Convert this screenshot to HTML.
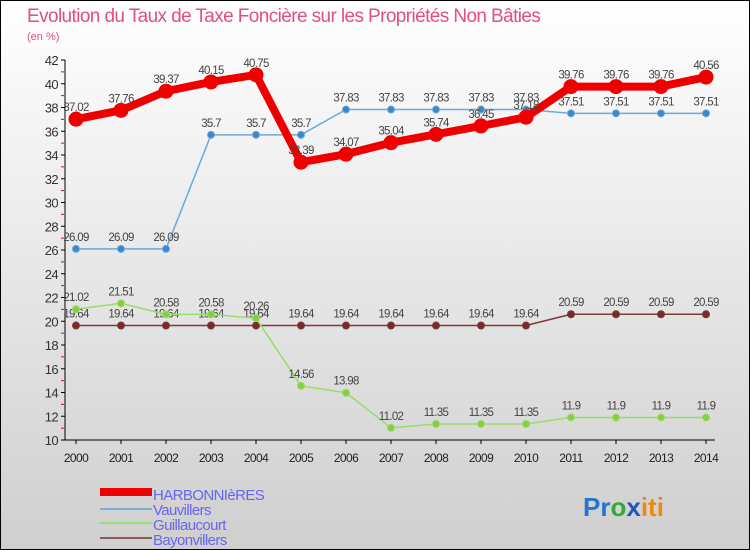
<!DOCTYPE html>
<html><head><meta charset="utf-8"><style>
body{margin:0;width:750px;height:550px;overflow:hidden;font-family:"Liberation Sans",sans-serif}
svg{display:block}
</style></head><body>
<svg id="c" width="750" height="550" xmlns="http://www.w3.org/2000/svg">
<defs><linearGradient id="bg" x1="0" y1="0" x2="0" y2="1"><stop offset="0" stop-color="#ffffff"/><stop offset="1" stop-color="#cfcfcf"/></linearGradient></defs>
<rect x="0.5" y="0.5" width="749" height="549" fill="url(#bg)" stroke="#000"/>
<text x="27" y="22" font-size="19" fill="#e0507a" letter-spacing="-0.6">Evolution du Taux de Taxe Foncière sur les Propriétés Non Bâties</text>
<text x="27" y="40" font-size="11" fill="#e0507a">(en %)</text>
<g id="axes"></g><g id="series"></g>
<g>
<rect x="100" y="488" width="52" height="8" fill="#e00"/>
<text x="153" y="500" font-size="15" fill="#6666ee" letter-spacing="-0.6">HARBONNIèRES</text>
<rect x="100" y="508" width="52" height="2" fill="#7aaed8"/>
<text x="153" y="515" font-size="15" fill="#6666ee" letter-spacing="-0.6">Vauvillers</text>
<rect x="100" y="522" width="52" height="2" fill="#99dd77"/>
<text x="153" y="530" font-size="15" fill="#6666ee" letter-spacing="-0.6">Guillaucourt</text>
<rect x="100" y="537" width="52" height="2" fill="#8a5a5a"/>
<text x="153" y="545" font-size="15" fill="#6666ee" letter-spacing="-0.6">Bayonvillers</text>
</g>
<text x="583" y="516" font-size="26" font-weight="bold"><tspan fill="#2277cc">Pr</tspan><tspan fill="#33aa33">o</tspan><tspan fill="#2255bb">x</tspan><tspan fill="#ee8811">iti</tspan></text>
</svg>
<script>
const years=[2000,2001,2002,2003,2004,2005,2006,2007,2008,2009,2010,2011,2012,2013,2014];
const harbonnieres=[37.02,37.76,39.37,40.15,40.75,33.39,34.07,35.04,35.74,36.45,37.18,39.76,39.76,39.76,40.56];
const vauvillers=[26.09,26.09,26.09,35.7,35.7,35.7,37.83,37.83,37.83,37.83,37.83,37.51,37.51,37.51,37.51];
const guillaucourt=[21.02,21.51,20.58,20.58,20.26,14.56,13.98,11.02,11.35,11.35,11.35,11.9,11.9,11.9,11.9];
const bayonvillers=[19.64,19.64,19.64,19.64,19.64,19.64,19.64,19.64,19.64,19.64,19.64,20.59,20.59,20.59,20.59];
const yTicks=[10,12,14,16,18,20,22,24,26,28,30,32,34,36,38,40,42];
const NS="http://www.w3.org/2000/svg";
function X(i){return 76+i*45;}
function Y(v){return 440-(v-10)*11.875;}
function el(t,a,p){const e=document.createElementNS(NS,t);for(const k in a)e.setAttribute(k,a[k]);p.appendChild(e);return e;}
const ax=document.getElementById('axes');
const yl=el('line',{x1:65,y1:Y(42),x2:65,y2:Y(10),stroke:'#000'},ax);


const xl=el('line',{x1:65,y1:Y(10),x2:715,y2:Y(10),stroke:'#000'},ax);


yTicks.forEach(v=>{
 el('line',{x1:61,y1:Y(v),x2:65,y2:Y(v),stroke:'#000'},ax);
 if(v<42)el('line',{x1:61,y1:Y(v+1),x2:64,y2:Y(v+1),stroke:'#e00'},ax);
 const t=el('text',{x:58,y:Y(v)+5,'font-size':13,'text-anchor':'end',fill:'#333','letter-spacing':'-0.6'},ax);
 t.textContent=v;
 
 
});
years.forEach((y,i)=>{
 el('line',{x1:X(i),y1:440,x2:X(i),y2:444,stroke:'#000'},ax);
 const t=el('text',{x:X(i),y:462,'font-size':12,'text-anchor':'middle',fill:'#222','letter-spacing':'-0.6'},ax);
 t.textContent=y;
 
 
});
const sg=document.getElementById('series');
function draw(data,name,color,w,r,fill){
 const g=el('g',{},sg);
 
 
 const pl=el('polyline',{points:data.map((v,i)=>X(i)+','+Y(v)).join(' '),fill:'none',stroke:color,'stroke-width':w,'stroke-linejoin':'round'},g);
 
 
 data.forEach((v,i)=>{
  const c=el('circle',{cx:X(i),cy:Y(v),r:r,fill:fill,stroke:color,'stroke-width':1},g);
  
  
  const t=el('text',{x:X(i),y:Y(v)-8,'font-size':11.5,'text-anchor':'middle',fill:'#444','letter-spacing':'-0.7'},g);
  t.textContent=v;
  
  
 });
}
draw(bayonvillers,'bayonvillers','#7a3a3a',1.5,3.5,'#7a2a2a');
draw(guillaucourt,'guillaucourt','#99dd66',1.5,3.5,'#88cc44');
draw(vauvillers,'vauvillers','#6fa8d8',1.5,3.5,'#3a88c8');
draw(harbonnieres,'harbonnieres','#e00',8,7,'#e00');
</script>
</body></html>
